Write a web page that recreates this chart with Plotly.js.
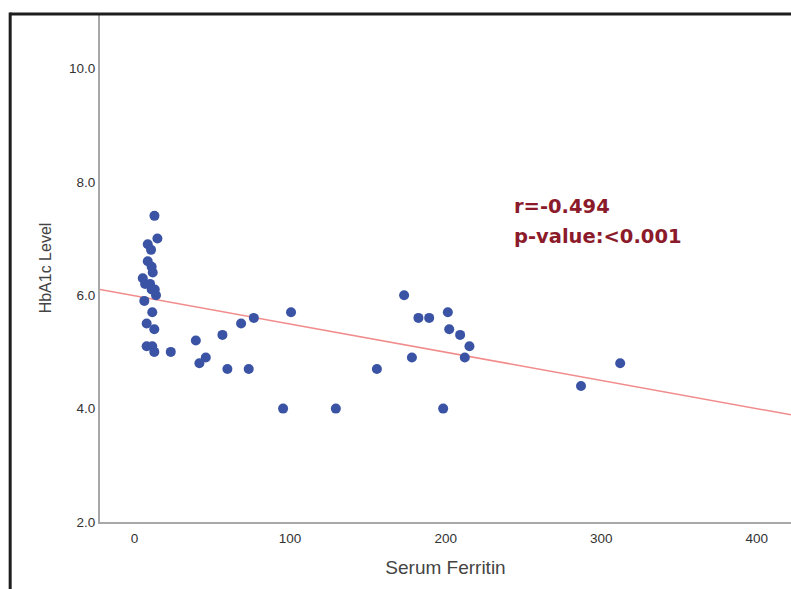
<!DOCTYPE html>
<html>
<head>
<meta charset="utf-8">
<script src="https://cdn.plot.ly/plotly-3.0.1.min.js"></script>
<style>html,body{margin:0;padding:0;background:#fff;}#chart{width:791px;height:589px;}</style>
</head>
<body>
<div id="chart"></div>
<script>
// Serum Ferritin (x) vs HbA1c Level (y)
const ferritin = [12.8, 14.7, 8.5, 10.6, 8.5, 11, 11.7, 5.3, 6.8, 10, 11, 13, 13.8, 6.3, 11.4, 7.8, 12.7, 7.8, 11.4, 12.7,
  23.3, 39.4, 45.8, 41.7, 56.5, 68.5, 76.7, 59.7, 73.4, 100.6, 95.5, 129.4, 155.8,
  173.3, 182.5, 189.4, 201.4, 202.3, 209.3, 215.3, 212.3, 178.3, 198.4, 287, 312.2];
const hba1c = [7.4, 7.0, 6.9, 6.8, 6.6, 6.5, 6.4, 6.3, 6.2, 6.2, 6.1, 6.1, 6.0, 5.9, 5.7, 5.5, 5.4, 5.1, 5.1, 5.0,
  5.0, 5.2, 4.9, 4.8, 5.3, 5.5, 5.6, 4.7, 4.7, 5.7, 4.0, 4.0, 4.7,
  6.0, 5.6, 5.6, 5.7, 5.4, 5.3, 5.1, 4.9, 4.9, 4.0, 4.4, 4.8];
// fitted regression line end points
const fitX = [-22.2, 422];
const fitY = [6.1, 3.89];
const xTicks = [0, 100, 200, 300, 400];
const yTicks = [2, 4, 6, 8, 10];
const yTickText = ["2.0", "4.0", "6.0", "8.0", "10.0"];
const statLines = ["r=-0.494", "p-value:<0.001"];

const traces = [
  {x: fitX, y: fitY, mode: 'lines', type: 'scatter', line: {color: '#f28b8b', width: 1.5}, hoverinfo: 'skip'},
  {x: ferritin, y: hba1c, mode: 'markers', type: 'scatter', marker: {color: '#3a53a4', size: 10}}
];

const statFont = {family: 'DejaVu Sans, sans-serif', size: 19.5, color: '#8b1a2b'};

const layout = {
  width: 791, height: 589,
  margin: {l: 100, r: 0, t: 14, b: 67},
  showlegend: false,
  paper_bgcolor: '#fff', plot_bgcolor: '#fff',
  font: {family: 'Liberation Sans, Arial, sans-serif', color: '#333'},
  xaxis: {
    range: [-22.2, 422], tickvals: xTicks, ticktext: xTicks.map(String),
    showgrid: false, zeroline: false, showline: true, linecolor: '#a8a8a8', linewidth: 2,
    ticks: 'outside', ticklen: 3, tickcolor: 'rgba(0,0,0,0)',
    tickfont: {size: 13.5, color: '#333'},
    title: {text: 'Serum Ferritin', font: {size: 19, color: '#444'}, standoff: 15}
  },
  yaxis: {
    range: [2, 10.96], tickvals: yTicks, ticktext: yTickText,
    showgrid: false, zeroline: false, showline: true, linecolor: '#a8a8a8', linewidth: 2,
    ticks: '', tickfont: {size: 13.5, color: '#333'},
    title: {text: 'HbA1c Level', font: {size: 16, color: '#444'}, standoff: 13}
  },
  annotations: [
    {x: 242.8, y: 7.56, xref: 'x', yref: 'y', text: '<b>' + statLines[0] + '</b>', showarrow: false, xanchor: 'left', yanchor: 'middle', font: statFont},
    {x: 242.8, y: 7.03, xref: 'x', yref: 'y', text: '<b>' + statLines[1] + '</b>', showarrow: false, xanchor: 'left', yanchor: 'middle', font: statFont}
  ],
  shapes: [
    {type: 'line', xref: 'paper', yref: 'paper', x0: -0.130, x1: 1.01, y0: 1, y1: 1, line: {color: '#1e1e1e', width: 3}},
    {type: 'line', xref: 'paper', yref: 'paper', x0: -0.130, x1: -0.130, y0: 1.003, y1: -0.14, line: {color: '#1e1e1e', width: 3}}
  ]
};
Plotly.newPlot('chart', traces, layout, {displayModeBar: false, staticPlot: true});
</script>
</body>
</html>
